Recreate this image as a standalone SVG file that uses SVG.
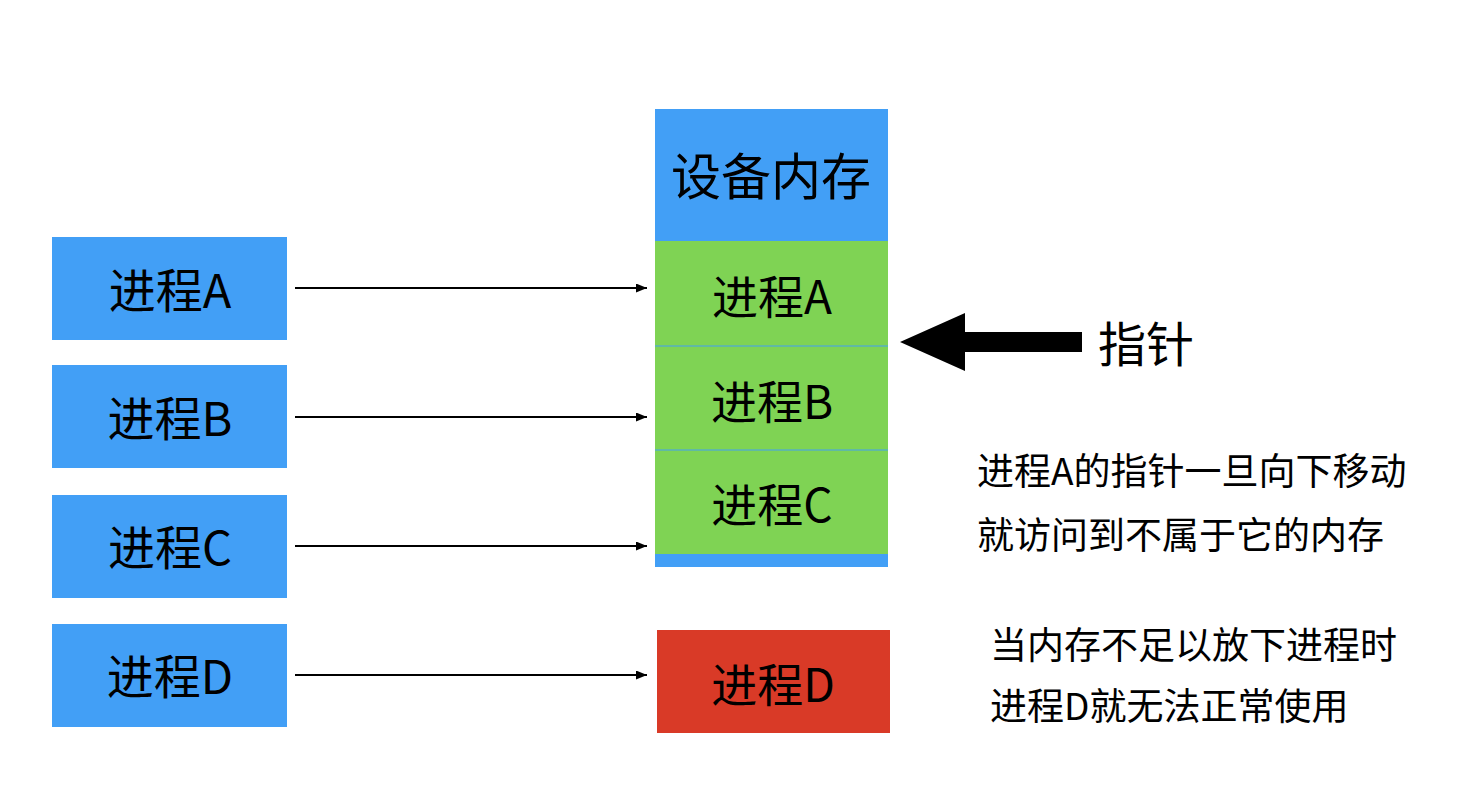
<svg xmlns="http://www.w3.org/2000/svg" width="1470" height="794" viewBox="0 0 1470 794">
<style>
.lbl{font-family:"Noto Sans CJK SC","Noto Sans",sans-serif;fill:#000;text-anchor:middle;dominant-baseline:central}
.note{font-family:"Noto Sans CJK SC","Noto Sans",sans-serif;fill:#000;font-size:37px}
.blue{fill:#429ff6}
.green{fill:#7fd354}
.red{fill:#d93a27}
.conn{stroke:#000;stroke-width:2;fill:none;marker-end:url(#ah)}
</style>
<defs>
<marker id="ah" markerWidth="11" markerHeight="9" refX="11" refY="4.5" orient="auto" markerUnits="userSpaceOnUse">
<path d="M0,0 L11,4.5 L0,9 Z" fill="#000"/>
</marker>
</defs>
<rect width="1470" height="794" fill="#fff"/>
<g id="procA"><rect class="blue" x="52" y="237" width="235" height="103"/><text class="lbl" x="170" y="287" font-size="47">进程A</text></g>
<g id="procB"><rect class="blue" x="52" y="365" width="235" height="103"/><text class="lbl" x="170" y="415" font-size="47">进程B</text></g>
<g id="procC"><rect class="blue" x="52" y="495" width="235" height="103"/><text class="lbl" x="170" y="544" font-size="47">进程C</text></g>
<g id="procD"><rect class="blue" x="52" y="624" width="235" height="103"/><text class="lbl" x="170" y="673" font-size="47">进程D</text></g>
<g id="memory">
<rect class="blue" x="655" y="109" width="233" height="458"/>
<text class="lbl" x="771" y="173" font-size="50">设备内存</text>
</g>
<g id="memA"><rect class="green" x="655" y="241" width="233" height="104.5"/><text class="lbl" x="772" y="294" font-size="46">进程A</text></g>
<g id="memB"><rect class="green" x="655" y="346.5" width="233" height="103"/><text class="lbl" x="772" y="399" font-size="46">进程B</text></g>
<g id="memC"><rect class="green" x="655" y="450.5" width="233" height="103.5"/><text class="lbl" x="772" y="502" font-size="46">进程C</text></g>
<g id="memD"><rect class="red" x="657" y="630" width="233" height="103"/><text class="lbl" x="773" y="682" font-size="46">进程D</text></g>
<g id="pointer">
<polygon points="900,342 965,313 965,332 1082,332 1082,352 965,352 965,371" fill="#000"/>
<text class="lbl" x="1146" y="341" font-size="48">指针</text>
</g>
<g id="notes">
<text class="note" x="977" y="485">进程A的指针一旦向下移动</text>
<text class="note" x="977" y="549">就访问到不属于它的内存</text>
<text class="note" x="990" y="659">当内存不足以放下进程时</text>
<text class="note" x="990" y="720">进程D就无法正常使用</text>
</g>
<g id="connectors">
<line class="conn" x1="295" y1="288" x2="647" y2="288"/>
<line class="conn" x1="295" y1="417" x2="647" y2="417"/>
<line class="conn" x1="295" y1="546" x2="647" y2="546"/>
<line class="conn" x1="295" y1="675" x2="647" y2="675"/>
</g>
</svg>
